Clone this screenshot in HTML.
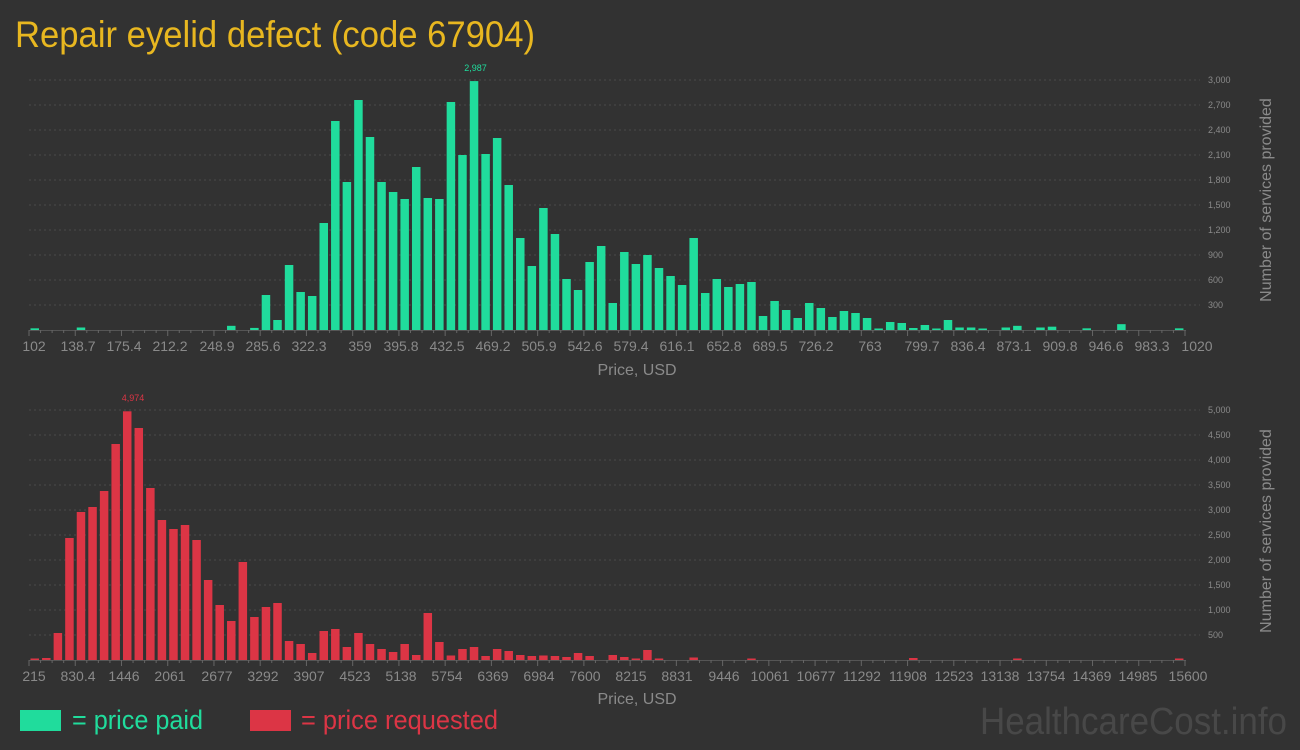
<!DOCTYPE html>
<html><head><meta charset="utf-8"><style>
html,body{margin:0;padding:0;background:#323232;}
svg{display:block;font-family:"Liberation Sans Narrow","Liberation Sans",sans-serif;}
.tk{fill:#8a8a8a;font-size:14px;}
.yl{fill:#8a8a8a;font-size:9px;}
.ax{fill:#8a8a8a;font-size:16px;}
</style></head><body>
<svg id="s" width="1300" height="750" viewBox="0 0 1300 750" xmlns="http://www.w3.org/2000/svg">
<rect width="1300" height="750" fill="#323232"/>
<text x="15" y="47" fill="#e8b720" font-size="37" textLength="520" lengthAdjust="spacingAndGlyphs">Repair eyelid defect (code 67904)</text>
<g id="g1"></g><g id="g2"></g>
<g class="yl">
<text x="1208" y="83">3,000</text><text x="1208" y="108">2,700</text><text x="1208" y="133">2,400</text><text x="1208" y="158">2,100</text><text x="1208" y="183">1,800</text><text x="1208" y="208">1,500</text><text x="1208" y="233">1,200</text><text x="1208" y="258">900</text><text x="1208" y="283">600</text><text x="1208" y="308">300</text>
<text x="1208" y="413">5,000</text><text x="1208" y="438">4,500</text><text x="1208" y="463">4,000</text><text x="1208" y="488">3,500</text><text x="1208" y="513">3,000</text><text x="1208" y="538">2,500</text><text x="1208" y="563">2,000</text><text x="1208" y="588">1,500</text><text x="1208" y="613">1,000</text><text x="1208" y="638">500</text>
</g>
<g class="tk" text-anchor="middle">
<text x="34" y="351">102</text><text x="78" y="351">138.7</text><text x="124" y="351">175.4</text><text x="170" y="351">212.2</text><text x="217" y="351">248.9</text><text x="263" y="351">285.6</text><text x="309" y="351">322.3</text><text x="360" y="351">359</text><text x="401" y="351">395.8</text><text x="447" y="351">432.5</text><text x="493" y="351">469.2</text><text x="539" y="351">505.9</text><text x="585" y="351">542.6</text><text x="631" y="351">579.4</text><text x="677" y="351">616.1</text><text x="724" y="351">652.8</text><text x="770" y="351">689.5</text><text x="816" y="351">726.2</text><text x="870" y="351">763</text><text x="922" y="351">799.7</text><text x="968" y="351">836.4</text><text x="1014" y="351">873.1</text><text x="1060" y="351">909.8</text><text x="1106" y="351">946.6</text><text x="1152" y="351">983.3</text><text x="1197" y="351">1020</text>
<text x="34" y="681">215</text><text x="78" y="681">830.4</text><text x="124" y="681">1446</text><text x="170" y="681">2061</text><text x="217" y="681">2677</text><text x="263" y="681">3292</text><text x="309" y="681">3907</text><text x="355" y="681">4523</text><text x="401" y="681">5138</text><text x="447" y="681">5754</text><text x="493" y="681">6369</text><text x="539" y="681">6984</text><text x="585" y="681">7600</text><text x="631" y="681">8215</text><text x="677" y="681">8831</text><text x="724" y="681">9446</text><text x="770" y="681">10061</text><text x="816" y="681">10677</text><text x="862" y="681">11292</text><text x="908" y="681">11908</text><text x="954" y="681">12523</text><text x="1000" y="681">13138</text><text x="1046" y="681">13754</text><text x="1092" y="681">14369</text><text x="1138" y="681">14985</text><text x="1188" y="681">15600</text>
</g>
<text class="ax" x="637" y="375" text-anchor="middle">Price, USD</text>
<text class="ax" x="637" y="704" text-anchor="middle">Price, USD</text>
<text class="ax" font-size="17" transform="translate(1271,200) rotate(-90)" text-anchor="middle">Number of services provided</text>
<text class="ax" font-size="17" transform="translate(1271,531) rotate(-90)" text-anchor="middle">Number of services provided</text>
<text x="475.5" y="71" fill="#20dc9c" font-size="9" text-anchor="middle">2,987</text>
<text x="133" y="401" fill="#dc3545" font-size="9" text-anchor="middle">4,974</text>
<rect x="20" y="710" width="41" height="21" fill="#20dc9c"/>
<text x="72" y="729" fill="#20dc9c" font-size="27" textLength="131" lengthAdjust="spacingAndGlyphs">= price paid</text>
<rect x="250" y="710" width="41" height="21" fill="#dc3545"/>
<text x="301" y="729" fill="#dc3545" font-size="27" textLength="197" lengthAdjust="spacingAndGlyphs">= price requested</text>
<text x="980" y="734" fill="#484848" font-size="38" textLength="307" lengthAdjust="spacingAndGlyphs">HealthcareCost.info</text>
</svg>
<script>
var NS="http://www.w3.org/2000/svg";
function el(p,t,a){var e=document.createElementNS(NS,t);for(var k in a)e.setAttribute(k,a[k]);p.appendChild(e);return e;}
var A=new Array(100).fill(0);
A[0]=20;A[4]=30;A[17]=50;A[19]=25;
var t=[420,120,780,456,408,1284,2508,1776,2760,2316,1776,1656,1572,1956,1584,1572,2736,2100,2987,2112,2304,1740,1104,768,1464,1152,612,480,816,1008,324,936,792,900,744,648,540,1104,444,612,516,552,576,168,348,240,144,324,264,156,228,204,144,10,96,84,24,60,10,120,30,30,10,0,30,50,0,30,40,0,0,20,0,0,70,0,0,0,0,20];
for(var i=0;i<t.length;i++)A[20+i]=t[i];
var B=new Array(100).fill(0);
var b=[20,40,540,2440,2960,3060,3380,4320,4974,4640,3440,2800,2620,2700,2400,1600,1100,780,1960,860,1060,1140,380,320,140,580,620,260,540,320,220,160,320,100,940,360,90,220,260,80,220,180,100,80,90,80,60,140,80,0,100,60,30,200,20,0,0,50,0,0,0,0,20,0,0,0,0,0,0,0,0,0,0,0,0,0,40,0,0,0,0,0,0,0,0,30,0,0,0,0,0,0,0,0,0,0,0,0,0,30];
for(i=0;i<b.length;i++)B[i]=b[i];
function chart(g,data,base,scale,col){
 g=document.getElementById(g);
 for(var k=0;k<10;k++){var y=base-25*(k+1);el(g,"line",{x1:29,x2:1200,y1:y,y2:y,stroke:"#4b4b4b","stroke-dasharray":"2,3","stroke-width":1});}
 el(g,"line",{x1:29,x2:1186,y1:base+0.5,y2:base+0.5,stroke:"#555","stroke-width":1});
 for(var k=0;k<=100;k++){var x=29+k*11.56;el(g,"line",{x1:x,x2:x,y1:base,y2:base+(k%4==0?6:3),stroke:"#666","stroke-width":1});}
 for(var i=0;i<100;i++){if(!data[i])continue;var h=Math.max(1.5,data[i]/scale);el(g,"rect",{x:(29+1.5+i*11.56).toFixed(2),y:(base-h).toFixed(2),width:8.5,height:h.toFixed(2),fill:col});}
}
chart("g1",A,330,12,"#20dc9c");
chart("g2",B,660,20,"#dc3545");
</script>
</body></html>
